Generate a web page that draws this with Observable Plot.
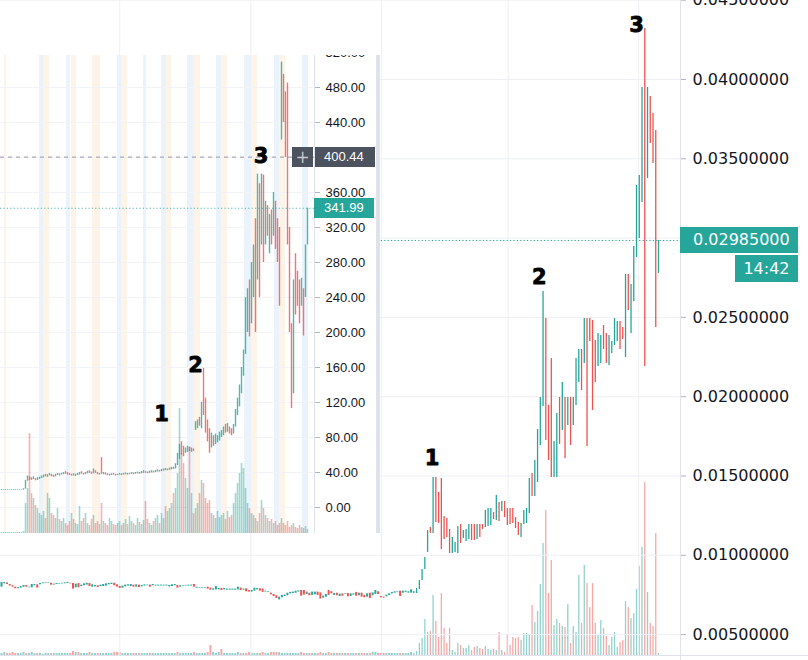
<!DOCTYPE html>
<html><head><meta charset="utf-8">
<script src="https://cdn.jsdelivr.net/npm/d3@7"></script>
<script src="https://cdn.jsdelivr.net/npm/@observablehq/plot@0.6"></script>
<style>
html,body{margin:0;padding:0;background:#fff;}
#wrap{position:relative;width:808px;height:660px;overflow:hidden;background:#fff;}
#wrap svg{position:absolute;left:0;top:0;max-width:none;}
#inset{position:absolute;left:0;top:55px;width:380px;height:478px;overflow:hidden;background:#fff;}
</style></head><body><div id="wrap"><div id="inset"></div></div>
<script>
// ---------------- MAIN CHART DATA (ratio chart, right) ----------------
const mainHigh = [
.00829,.00829,.00826,.00816,.00808,.00799,.00795,.00803,.00810,.00810,
.00799,.00816,.00816,.00814,.00822,.00826,.00826,.00826,.00824,.00818,
.00822,.00822,.00824,.00826,.00829,.00824,.00822,.00818,.00822,.00812,
.00820,.00824,.00822,.00814,.00810,.00808,.00812,.00816,.00820,.00822,
.00824,.00824,.00814,.00803,.00806,.00812,.00814,.00816,.00812,.00814,
.00812,.00810,.00814,.00812,.00812,.00816,.00812,.00812,.00812,.00812,
.00812,.00810,.00814,.00816,.00810,.00808,.00810,.00810,.00812,.00812,
.00816,.00799,.00797,.00797,.00797,.00799,.00793,.00789,.00803,.00791,
.00791,.00791,.00787,.00787,.00787,.00787,.00799,.00793,.00787,.00789,
.00778,.00778,.00793,.00791,.00789,.00787,.00774,.00770,.00761,.00753,
.00745,.00736,.00747,.00749,.00761,.00766,.00768,.00774,.00776,.00778,
.00778,.00768,.00761,.00768,.00768,.00768,.00763,.00742,.00753,.00778,
.00770,.00759,.00761,.00755,.00757,.00757,.00759,.00757,.00757,.00766,
.00761,.00761,.00747,.00757,.00761,.00763,.00778,.00770,.00740,.00736,
.00749,.00757,.00766,.00770,.00770,.00774,.00774,.00774,.00770,.00782,
.00772,.00791,.00841,.00911,.00986,.01156,.01175,.01491,.01491,.01396,
.01484,.01245,.01232,.01163,.01112,.01081,.01182,.01194,.01156,.01163,
.01194,.01194,.01194,.01194,.01194,.01194,.01283,.01295,.01295,.01270,
.01377,.01333,.01339,.01339,.01295,.01295,.01295,.01238,.01207,.01201,
.01283,.01295,.01484,.01516,.01598,.01793,.01995,.02663,.02493,.01945,
.02241,.01718,.01894,.01995,.02090,.01995,.01995,.01995,.01995,.02241,
.02298,.02298,.02493,.02493,.02493,.02481,.02354,.02399,.02386,.02449,
.02399,.02386,.02348,.02493,.02474,.02474,.02436,.02771,.02771,.02707,
.02947,.03332,.03395,.03950,.04322,.03950,.03893,.03786,.03678,.02985];
const mainLow = [
.00799,.00820,.00816,.00806,.00799,.00789,.00789,.00793,.00799,.00799,
.00795,.00795,.00808,.00793,.00814,.00820,.00822,.00822,.00812,.00812,
.00816,.00818,.00820,.00820,.00822,.00820,.00787,.00795,.00795,.00803,
.00808,.00812,.00803,.00799,.00801,.00797,.00803,.00803,.00806,.00814,
.00816,.00808,.00799,.00791,.00793,.00801,.00806,.00803,.00799,.00799,
.00797,.00801,.00806,.00808,.00799,.00808,.00806,.00806,.00806,.00806,
.00806,.00801,.00803,.00808,.00793,.00799,.00806,.00806,.00806,.00806,
.00799,.00793,.00793,.00793,.00793,.00787,.00780,.00780,.00782,.00782,
.00778,.00782,.00780,.00780,.00780,.00780,.00782,.00778,.00780,.00770,
.00768,.00768,.00774,.00782,.00774,.00766,.00768,.00766,.00751,.00740,
.00728,.00719,.00732,.00740,.00745,.00757,.00759,.00761,.00768,.00742,
.00749,.00753,.00745,.00747,.00751,.00747,.00724,.00730,.00736,.00747,
.00757,.00747,.00745,.00740,.00742,.00753,.00738,.00740,.00749,.00742,
.00745,.00736,.00732,.00736,.00728,.00745,.00753,.00753,.00732,.00730,
.00738,.00747,.00757,.00761,.00766,.00740,.00761,.00766,.00761,.00761,
.00759,.00759,.00784,.00841,.00911,.01018,.01138,.01138,.01207,.01201,
.01037,.01100,.01112,.01011,.01011,.01018,.01011,.01074,.01106,.01087,
.01100,.01093,.01093,.01100,.01112,.01163,.01175,.01182,.01188,.01226,
.01220,.01213,.01276,.01238,.01188,.01194,.01201,.01169,.01125,.01112,
.01194,.01201,.01264,.01371,.01371,.01459,.01692,.01938,.01724,.01598,
.01491,.01491,.01491,.01699,.01787,.01610,.01819,.01692,.01819,.01945,
.02090,.02039,.02209,.01686,.02348,.01913,.02090,.02190,.02209,.02298,
.02209,.02197,.02272,.02323,.02348,.02298,.02361,.02247,.02544,.02399,
.02600,.02878,.02998,.03225,.02190,.03376,.03597,.03470,.02436,.02777];
const mainDir = ("uudddduuud"+"uuuduuuudu"+"uuuuuddudu"+"uuduuduuuu"+"uddduuuudu"+
  "duuuduuuuu"+"uuuuduuuuu"+"duuuudduuu"+"duuuuuudud"+"duuudduudd"+
  "duuuuuuuud"+"duduudduud"+"dudududuud"+"udduduuddd"+"uuuuuduuuu"+
  "uuuuuududd"+"dddduuuduu"+"uddudduuud"+"ududdddddu"+"uuuduuuudd"+
  "duudududuu"+"ududddduud"+"duuuuddudu"+"uuuududddu").split("");
const mainVol = [
2,3,2,2,3,2,2,2,3,2, 2,3,2,2,2,1,2,2,2,2, 2,2,2,2,2,2,4,3,3,2, 2,2,3,2,2,2,2,2,2,2,
2,3,3,3,2,2,2,2,2,2, 2,2,2,2,2,2,2,2,2,2, 2,2,2,2,3,2,2,2,2,2, 3,2,2,2,2,3,10,3,2,3,
6,2,2,2,2,2,3,2,2,2, 3,2,2,2,2,3,2,2,3,3, 3,3,2,2,2,2,2,2,2,3, 2,2,2,2,2,2,3,2,2,3,
2,2,2,2,2,2,2,2,2,2, 2,2,2,2,2,3,3,2,2,2, 2,2,2,2,2,2,2,2,2,3,
2,4,12,17,36,23,24,60,34,18, 62,27,12,27,5,3,12,10,7,7, 10,5,8,9,7,6,9,6,5,6,
5,23,5,3,21,10,18,17,18,15, 22,22,21,50,33,44,71,112,145,62, 95,30,36,32,29,28,51,12,29,23,
80,32,90,72,48,72,32,20,35,27, 19,10,18,23,8,13,15,54,48,37, 42,66,89,108,173,63,32,29,122,2];
const priceTicks = [0.005,0.01,0.015,0.02,0.025,0.03,0.035,0.04,0.045];
const mainGridIdx = [43, 90.7, 138.3, 184.3, 231.8];
const mainNoteText = ["1","2","3"];
const mainNoteIdx = [156.6, 195.6, 231.0];
const mainNotePrice = [0.0161, 0.02752, 0.04343];
const mainLast = 0.02985;
const mainCountdown = "14:42";

// ---------------- INSET CHART DATA (price chart, top-left) ----------------
const insetHigh = [
20.5,20.6,20.4,20.5,20.6,20.4,20.5,20.6,20.5,20.4,
20.6,21.5,31,36,35,34,35,33,34,34.5,
36,37,38,37.5,39,38,37,38,39,38.5,
39,40,41,40,39,38,38.5,38,39,40,
41,39,40,41.5,42,40.5,44,42,40,39,
57,40,39.5,38.5,38,38.5,39,38,38,39,
38.5,39,39.5,39,39,40,39.5,40,40.5,40,
41,42,41,40.5,41.5,42,41.5,42.5,43,42.5,
43.5,44,44.5,44,45,46,46,50,62,72,
75,70,68,70,69,68,67,98,100,103,
120,159,125,100,90,85,82,84,82,86,
88,92,95,96,92,90,95,112,125,140,
160,180,240,250,260,280,300,330,381,370,
381,380,350,345,335,340,360,350,330,320,
509,495,475,485,320,210,260,290,270,260,
262,250,300,342];
const insetLow = [
19.5,19.8,19.6,19.7,19.9,19.6,19.8,19.7,19.8,19.7,
19.8,19.9,21,30,31,31,32,30.5,31,32,
33,34,35,34.5,36,35,34.5,35,36.5,36,
37,37.5,38,37,36.5,36,36,35.5,36.5,37,
38,37,37.5,38.5,39,38,38.5,39,37.5,37,
38,37.5,37,36.5,36,36.5,37,36,36.5,37,
36.5,37,37.5,37,37.5,38,37.5,38,38.5,38,
38.5,39,39,38.5,39,39.5,39.5,40,40.5,40.5,
41,41.5,42,42,42.5,43,43.5,44,48,55,
60,58,62,63,64,63,64,88,90,93,
90,105,85,75,62,68,70,72,74,76,
80,82,85,86,84,82,84,92,105,115,
130,150,175,200,195,210,240,200,260,240,
300,280,300,310,290,300,310,295,280,230,
420,440,400,300,200,113,130,220,230,210,
230,196,240,300];
const insetDir = ("uuuuuuuuuu"+"uuuudduduu"+"uuduudduud"+"uuddduduuu"+"dduudduddu"+
  "dudduudduu"+"duuduuduud"+"uudduuduud"+"uuduuuduuu"+"dduududuud"+
  "udddduduuu"+"uududduuuu"+"uuuuduudud"+"ududududdd"+"uddddduddd"+"uduu").split("");
const insetVol = [
1,1,1,1,1,1,1,1,1,1, 1,2,30,45,100,40,35,28,25,20, 18,22,15,40,35,20,18,15,25,14,
12,15,10,8,12,20,14,10,9,27, 12,15,20,10,8,14,18,10,12,9, 30,12,10,8,15,12,9,8,10,12,
8,10,14,9,17,12,10,8,15,11, 9,13,32,14,10,8,12,15,18,10, 20,15,27,22,25,30,40,45,60,125,
80,70,55,45,86,40,20,25,30,40, 53,50,35,30,33,20,18,15,22,16, 18,20,14,22,16,18,30,40,50,60,
70,65,45,30,25,20,18,15,12,20, 33,25,18,15,12,14,10,12,8,10, 15,10,8,12,6,8,10,6,5,8, 6,5,7,4];
const insetTicks = [0,40,80,120,160,200,240,280,320,360,400,440,480,520];
const blueBandStart = [19, 32.5, 58, 71, 80, 93, 107.5, 121.5, 136.5, 150.5];
const blueBandEnd   = [21, 34.5, 60, 72.5, 82.5, 96.5, 110, 125, 139, 153.5];
const orangeBandStart = [1.5, 21, 35, 45.5, 60, 82.5, 96.5, 110, 125, 139];
const orangeBandEnd   = [2.5, 24, 37.5, 49.5, 63, 85, 99.5, 113, 128, 142];
const insetNoteText = ["1","2","3"];
const insetNoteIdx = [80, 97, 129.75];
const insetNotePrice = [106.9, 162.3, 401.1];
const insetLast = 341.99;
const insetCross = 400.44;

// ---------------- BUILD ----------------
const TEAL = "#26a69a", RED = "#ef5350";
const wrap = document.getElementById("wrap");
const insetDiv = document.getElementById("inset");

const mainData = mainHigh.map((h, i) => ({i, hi: h, lo: mainLow[i], up: mainDir[i] === "u", vol: mainVol[i]}));
const mainNotes = mainNoteText.map((t, k) => ({t, i: mainNoteIdx[k], p: mainNotePrice[k]}));
const insetData = insetHigh.map((h, j) => ({j, hi: h, lo: insetLow[j], up: insetDir[j] === "u", vol: insetVol[j]}));
const insetNotes = insetNoteText.map((t, k) => ({t, j: insetNoteIdx[k], p: insetNotePrice[k]}));
const blueBands = blueBandStart.map((s, k) => ({s, e: blueBandEnd[k]}));
const orangeBands = orangeBandStart.map((s, k) => ({s, e: orangeBandEnd[k]}));

const mainX = {domain: [-0.364, 247.0], axis: null};
const mainY = [0.003682, 0.044981];
const common = {width: 808, height: 660, marginLeft: 0, marginRight: 128, marginTop: 0, marginBottom: 5};

// main volume layer
const mainVolPlot = Plot.plot({
  ...common,
  x: mainX, y: {domain: [0, 655], axis: null},
  color: {type: "identity"},
  style: {background: "white"},
  marks: [
    Plot.ruleX(mainData, {x: "i", y1: 0, y2: "vol",
      stroke: d => d.up ? "rgba(38,166,154,0.5)" : "rgba(239,83,80,0.5)",
      strokeWidth: d => d.i < 150 ? 2 : 1.3})
  ]
});
wrap.insertBefore(mainVolPlot, insetDiv);

// main price layer
const mainPricePlot = Plot.plot({
  ...common,
  x: mainX, y: {domain: mainY},
  color: {type: "identity"},
  style: {background: "transparent", fontFamily: "DejaVu Sans", fontSize: "16px"},
  marks: [
    Plot.ruleY(priceTicks, {stroke: "#eef0f5", strokeWidth: 1}),
    Plot.ruleX(mainGridIdx, {stroke: "#eef0f5", strokeWidth: 1}),
    Plot.ruleY([mainY[0]], {x1: mainX.domain[0], x2: 300, stroke: "#e0e3eb"}),
    Plot.ruleX([mainX.domain[1]], {y1: mainY[0] - 0.001, y2: mainY[1], stroke: "#e0e3eb"}),
    Plot.ruleY([mainLast], {stroke: TEAL, strokeWidth: 1, strokeDasharray: "1.2,2.2"}),
    Plot.ruleX(mainData, {x: "i", y1: "lo", y2: "hi",
      stroke: d => d.up ? TEAL : RED, strokeWidth: d => d.i < 150 ? 2 : 1.3}),
    Plot.axisY(priceTicks, {anchor: "right", tickSize: 5, tickPadding: 7, label: null,
      tickFormat: d => d.toFixed(8), stroke: "#b2b5be", fill: "#131722"}),
    Plot.text(mainNotes, {x: "i", y: "p", text: "t", fontSize: 21, fontWeight: "bold",
      fontFamily: "DejaVu Sans", fill: "#000", stroke: "#000", strokeWidth: 0.8})
  ]
});
wrap.insertBefore(mainPricePlot, insetDiv);

// inset layers
const insetX = {domain: [-0.5, 156.5], axis: null};
const insetY = [-29.714, 516.571];
const insetCommon = {width: 380, height: 478, marginLeft: 0, marginRight: 66, marginTop: 0, marginBottom: 0};

const insetBg = Plot.plot({
  ...insetCommon,
  x: insetX, y: {domain: insetY, axis: null},
  style: {background: "white"},
  marks: [
    Plot.rect(blueBands, {x1: "s", x2: "e", fill: "#eaf3fc"}),
    Plot.rect(orangeBands, {x1: "s", x2: "e", fill: "#fdf4e7"}),
    Plot.ruleY(insetTicks, {stroke: "#f2f3f6"})
  ]
});
insetDiv.appendChild(insetBg);

const insetVolPlot = Plot.plot({
  ...insetCommon,
  x: insetX, y: {domain: [0, 478], axis: null},
  color: {type: "identity"},
  style: {background: "transparent"},
  marks: [
    Plot.ruleX(insetData, {x: "j", y1: 0, y2: "vol",
      stroke: d => d.up ? "rgba(38,166,154,0.45)" : "rgba(239,83,80,0.45)", strokeWidth: 1.6})
  ]
});
insetDiv.appendChild(insetVolPlot);

const insetPricePlot = Plot.plot({
  ...insetCommon,
  x: insetX, y: {domain: insetY},
  color: {type: "identity"},
  style: {background: "transparent", fontFamily: "Liberation Sans", fontSize: "13px"},
  marks: [
    Plot.ruleX([insetX.domain[1]], {stroke: "#e0e3eb"}),
    Plot.ruleY([insetCross], {stroke: "#9598a1", strokeDasharray: "4,4"}),
    Plot.ruleY([insetLast], {stroke: TEAL, strokeDasharray: "1.2,2.2", strokeOpacity: 0.8}),
    Plot.ruleX(insetData, {x: "j", y1: "lo", y2: "hi",
      stroke: d => d.up ? TEAL : RED, strokeOpacity: 0.8, strokeWidth: 1.4}),
    Plot.axisY(insetTicks, {anchor: "right", tickSize: 5, tickPadding: 6, label: null,
      tickFormat: d3.format(".2f"), stroke: "#b2b5be", fill: "#131722"}),
    Plot.text(insetNotes, {x: "j", y: "p", text: "t", fontSize: 21, fontWeight: "bold",
      fontFamily: "DejaVu Sans", fill: "#000", stroke: "#000", strokeWidth: 0.8})
  ]
});
insetDiv.appendChild(insetPricePlot);

// price tags
function tag(parent, text, o) {
  const d = document.createElement("div");
  d.textContent = text;
  Object.assign(d.style, {position: "absolute", left: o.left + "px", top: o.top + "px",
    width: o.w + "px", height: o.h + "px", background: o.bg, color: o.fg || "#fff",
    fontFamily: o.ff, fontSize: o.fs + "px", lineHeight: o.h + "px",
    textAlign: o.align || "left", paddingLeft: (o.pad || 0) + "px",
    boxSizing: "border-box", whiteSpace: "nowrap", overflow: "hidden"});
  parent.appendChild(d);
  return d;
}
const yLast = mainPricePlot.scale("y").apply(mainLast);
tag(wrap, mainLast.toFixed(8), {left: 680, top: yLast - 13, w: 118, h: 26, bg: TEAL, ff: "DejaVu Sans", fs: 16, pad: 13});
tag(wrap, mainCountdown, {left: 735, top: yLast + 15, w: 63, h: 27, bg: TEAL, ff: "DejaVu Sans", fs: 16, align: "center"});

const yCross = insetPricePlot.scale("y").apply(insetCross);
tag(insetDiv, "+", {left: 292, top: yCross - 10, w: 21, h: 20, bg: "#4c525e", fg: "#c4c7ce", ff: "DejaVu Sans", fs: 17, align: "center"});
tag(insetDiv, insetCross.toFixed(2), {left: 315, top: yCross - 10, w: 60, h: 20, bg: "#4c525e", ff: "Liberation Sans", fs: 13, pad: 9});
const yInLast = insetPricePlot.scale("y").apply(insetLast);
tag(insetDiv, insetLast.toFixed(2), {left: 314, top: yInLast - 10, w: 60, h: 20, bg: TEAL, ff: "Liberation Sans", fs: 13, pad: 10});
// right border strip of the inset
tag(insetDiv, "", {left: 376, top: 0, w: 4, h: 478, bg: "#dfe2e8", ff: "Liberation Sans", fs: 1});
</script></body></html>
